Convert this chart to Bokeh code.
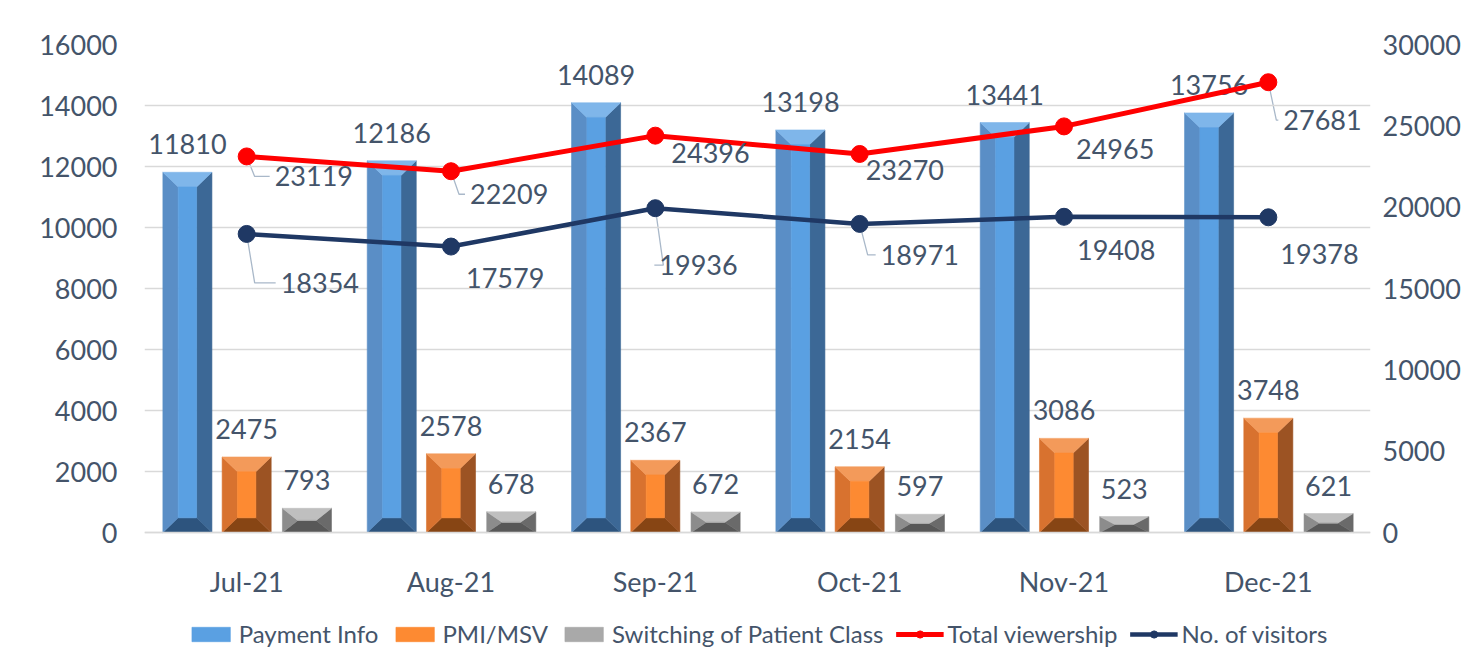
from bokeh.plotting import figure
from bokeh.models import (Range1d, LinearAxis, FixedTicker, Legend, LegendItem)
from bokeh.embed import file_html
from bokeh.resources import INLINE
from bokeh.core.properties import value

# ---------------- data ----------------
months = ["Jul-21", "Aug-21", "Sep-21", "Oct-21", "Nov-21", "Dec-21"]
payment_info = [11810, 12186, 14089, 13198, 13441, 13756]
pmi_msv = [2475, 2578, 2367, 2154, 3086, 3748]
switching = [793, 678, 672, 597, 523, 621]
total_viewership = [23119, 22209, 24396, 23270, 24965, 27681]
visitors = [18354, 17579, 19936, 18971, 19408, 19378]
left_ticks = [0, 2000, 4000, 6000, 8000, 10000, 12000, 14000, 16000]
right_ticks = [0, 5000, 10000, 15000, 20000, 25000, 30000]

# ---------------- style ----------------
FW = 1226
PLOT_H = 488          # px from value 0 to the top gridline
FH = 607              # frame extends below 0 to hold month labels and legend
LEFT_MAX, RIGHT_MAX = 16000, 30000
left_min = -LEFT_MAX * (FH - PLOT_H) / PLOT_H
right_min = -RIGHT_MAX * (FH - PLOT_H) / PLOT_H
FONT = "Lato"
TXT = "#44546a"
FS = "27px"
BAR_W = 0.24
BEVEL_X = 0.075   # category units
BEVEL_Y = 480     # left-axis units

# label offsets in px (dx, dy, leader)
red_lbl = [(28, 20, True), (19, 23, True), (16, 17, False), (6, 16, False), (12, 23, False), (15, 38, True)]
navy_lbl = [(34, 49, True), (15, 31, False), (4, 57, True), (21, 31, True), (13, 33, False), (12, 37, False)]

p = figure(frame_width=FW, frame_height=FH, x_range=Range1d(0, 6),
           y_range=Range1d(left_min, LEFT_MAX),
           output_backend="svg", toolbar_location=None,
           min_border_left=144, min_border_top=44, min_border_right=4, min_border_bottom=0,
           background_fill_color="white", border_fill_color="white")
p.outline_line_color = None
p.extra_y_ranges = {"right": Range1d(right_min, RIGHT_MAX)}

# grid
p.xgrid.visible = False
p.yaxis.ticker = FixedTicker(ticks=left_ticks)
p.ygrid.ticker = FixedTicker(ticks=left_ticks)
p.ygrid.grid_line_color = "#d9d9d9"
p.ygrid.grid_line_width = 1.3

# x axis (sits at value 0)
ax = p.xaxis[0]
ax.axis_label = None
ax.fixed_location = 0
ax.ticker = FixedTicker(ticks=[i + 0.5 for i in range(len(months))])
ax.major_label_overrides = {i + 0.5: m for i, m in enumerate(months)}
ax.axis_line_color = "#d9d9d9"
ax.axis_line_width = 1.3
ax.major_tick_line_color = None
ax.minor_tick_line_color = None
ax.major_tick_out = 0
ax.major_tick_in = 0
ax.major_label_standoff = 32
ax.major_label_text_font = FONT
ax.major_label_text_font_size = FS
ax.major_label_text_color = TXT

ay = p.yaxis[0]
ay.axis_label = None
ay.axis_line_color = None
ay.major_tick_line_color = None
ay.minor_tick_line_color = None
ay.major_tick_out = 0
ay.major_label_standoff = 27
ay.major_label_text_font = FONT
ay.major_label_text_font_size = FS
ay.major_label_text_color = TXT

ry = LinearAxis(y_range_name="right", ticker=FixedTicker(ticks=right_ticks))
ry.axis_line_color = None
ry.major_tick_line_color = None
ry.minor_tick_line_color = None
ry.major_tick_out = 0
ry.major_label_standoff = 12
ry.major_label_text_font = FONT
ry.major_label_text_font_size = FS
ry.major_label_text_color = TXT
p.add_layout(ry, "right")

# ---------------- bevelled bars ----------------
def bevel(vals, offset, cols):
    faces = {k: ([], []) for k in ("bottom", "left", "right", "top", "center")}
    centers = []
    for i, v in enumerate(vals):
        c = i + 0.5 + offset
        centers.append(c)
        x0, x1 = c - BAR_W / 2, c + BAR_W / 2
        by = min(BEVEL_Y, v / 2)
        bx = BEVEL_X
        xi0, xi1 = x0 + bx, x1 - bx
        faces["bottom"][0].append([x0, x1, xi1, xi0]); faces["bottom"][1].append([0, 0, by, by])
        faces["top"][0].append([x0, x1, xi1, xi0]); faces["top"][1].append([v, v, v - by, v - by])
        faces["left"][0].append([x0, x0, xi0, xi0]); faces["left"][1].append([0, v, v - by, by])
        faces["right"][0].append([x1, x1, xi1, xi1]); faces["right"][1].append([0, v, v - by, by])
        faces["center"][0].append([xi0, xi1, xi1, xi0]); faces["center"][1].append([by, by, v - by, v - by])
    rs = {}
    for k in ("bottom", "left", "right", "top", "center"):
        xs, ys = faces[k]
        rs[k] = p.patches(xs, ys, fill_color=cols[k], line_color=cols[k], line_width=0.6)
    p.text(x=centers, y=vals, text=[str(v) for v in vals], text_align="center",
           text_baseline="bottom", y_offset=-18, text_font=value(FONT),
           text_font_size=FS, text_color=TXT)
    return rs

blue = dict(top="#7fb6ea", left="#5a8ec6", center="#5aa0e2", right="#3c6896", bottom="#2d547e")
orange = dict(top="#f39a5a", left="#d8722f", center="#fd8a32", right="#9c5323", bottom="#874514")
grey = dict(top="#bfbfbf", left="#8c8c8c", center="#a9a9a9", right="#6a6a6a", bottom="#585858")

r_pay = bevel(payment_info, -0.29, blue)
r_pmi = bevel(pmi_msv, 0.0, orange)
r_sw = bevel(switching, 0.295, grey)

# ---------------- lines ----------------
xc = [i + 0.5 for i in range(len(months))]
pxc = FW / 6.0
pxu = PLOT_H / RIGHT_MAX

def line_series(vals, color, lw, lbl):
    l = p.line(xc, vals, line_color=color, line_width=lw, y_range_name="right")
    s = p.scatter(xc, vals, size=17, fill_color=color, line_color=color, y_range_name="right")
    lxs, lys = [], []
    for x, v, (dx, dy, lead) in zip(xc, vals, lbl):
        if lead:
            yl = v - dy / pxu
            lxs.append([x, x + 8 / pxc, x + (dx - 5) / pxc])
            lys.append([v, yl, yl])
    if lxs:
        p.multi_line(lxs, lys, line_color="#a9b8c9", line_width=1.3, y_range_name="right",
                     level="underlay")
    for x, v, (dx, dy, lead) in zip(xc, vals, lbl):
        p.text(x=[x], y=[v], text=[str(v)], x_offset=dx, y_offset=dy, text_align="left",
               text_baseline="middle", text_font=value(FONT), text_font_size=FS,
               text_color=TXT, y_range_name="right")
    return [l, s]

r_tv = line_series(total_viewership, "#ff0000", 5, red_lbl)
r_vis = line_series(visitors, "#1f3864", 4.5, navy_lbl)

# ---------------- legend ----------------
legend = Legend(items=[
    LegendItem(label="Payment Info", renderers=[r_pay["center"]]),
    LegendItem(label="PMI/MSV", renderers=[r_pmi["center"]]),
    LegendItem(label="Switching of Patient Class", renderers=[r_sw["center"]]),
    LegendItem(label="Total viewership", renderers=r_tv),
    LegendItem(label="No. of visitors", renderers=r_vis),
], orientation="horizontal", location="bottom_center")
legend.label_text_font = FONT
legend.label_text_font_size = "24px"
legend.label_text_color = TXT
legend.label_height = 24
legend.glyph_width = 48
legend.glyph_height = 18
legend.spacing = 12
legend.label_standoff = 4
legend.padding = 0
legend.margin = 3
legend.border_line_color = None
legend.background_fill_alpha = 0
p.add_layout(legend, "center")

open("out.html", "w").write(file_html(p, INLINE))
